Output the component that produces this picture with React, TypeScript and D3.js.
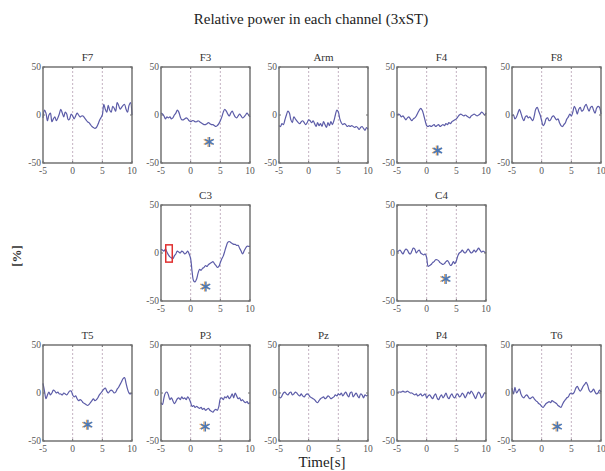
import React, { useEffect, useRef } from "react";
import * as d3 from "d3";

// channel names, in plotting order
const channels = ["F7", "F3", "Arm", "F4", "F8", "C3", "C4", "T5", "P3", "Pz", "P4", "T6"];

// grid cell (row, col) for each channel
const cells: [number, number][] = [
  [0, 0], [0, 1], [0, 2], [0, 3], [0, 4],
  [1, 1], [1, 3],
  [2, 0], [2, 1], [2, 2], [2, 3], [2, 4],
];

const xTicks = [-5, 0, 5, 10];
const yTicks = [-50, 0, 50];
const markers = [0, 5];

// relative power (%), sampled every 0.25 s from -5 to 10 s
const F7 = [-3, 5, 2, -6, 0, 2, -7, -4, -2, -6, -3, 1, 6, 2, -2, 3, 1, -5, -4, 1, -1, -4, -1, 2, 0, -2, -1, -1, -3, -5, -7, -8, -10, -12, -13, -14, -13, -10, -6, -3, 0, 11, 6, 3, 10, 5, 3, 9, 7, 4, 13, 10, 6, 8, 10, 11, 6, 3, 10, 13, 0];
const F3 = [2, 1, -1, -4, -2, -3, -2, -4, -3, 0, 2, 5, 3, -2, -5, -5, -4, -3, -4, -6, -7, -6, -6, -7, -7, -6, -7, -8, -9, -10, -10, -9, -8, -9, -10, -10, -11, -12, -11, -9, -6, -2, 3, 6, 4, 1, -1, 2, 4, 1, -2, -3, -1, 1, -1, -3, -2, 0, 2, 0, -2];
const Arm = [-11, -12, -9, -10, -5, 0, 4, 2, -5, -8, -2, -4, -6, -8, -9, -7, -6, -8, -10, -8, -5, -6, -8, -6, -9, -12, -8, -11, -9, -12, -7, -10, -13, -8, -11, -7, -10, -6, 0, 5, 3, -4, -8, -10, -9, -10, -12, -11, -12, -11, -12, -13, -12, -13, -15, -13, -12, -14, -16, -13, -15];
const F4 = [0, 1, 0, -2, -1, -3, -5, -3, -2, -4, -6, -4, -3, -1, 2, 5, 7, 5, 0, -6, -11, -12, -11, -12, -11, -10, -12, -11, -10, -12, -11, -10, -11, -9, -10, -8, -9, -7, -6, -5, -4, -2, 0, 1, 0, -1, 0, -1, -2, -3, -1, 0, 1, 0, -1, 0, 1, 3, 2, 0, 2];
const F8 = [-1, 0, -4, -2, 2, 6, 2, -3, -6, -2, -1, -3, -2, -4, -6, -1, 6, 8, 4, 0, -6, -11, -9, -4, -3, -6, -5, -2, -1, -3, -5, -4, -8, -11, -12, -10, -8, -4, -2, 1, -1, 3, 9, 6, 1, 6, 8, 4, 5, 9, 11, 7, 4, 8, 9, 5, 2, 7, 9, 8, 1];
const C3 = [4, 3, 2, 4, 1, -2, -4, -5, -6, -3, -1, 2, 1, 0, 2, 1, -1, 0, 2, -1, -6, -20, -29, -30, -27, -21, -17, -18, -16, -15, -13, -14, -12, -11, -10, -9, -11, -13, -15, -14, -10, -6, -3, 2, 7, 11, 12, 11, 10, 9, 9, 8, 8, 5, 2, -1, 2, 5, 7, 7, 7];
const C4 = [1, 2, 3, 1, -1, 2, 4, 3, 0, -1, 2, 5, 4, 0, 2, 3, 0, -1, -2, -1, -5, -14, -13, -12, -10, -9, -7, -7, -8, -10, -11, -12, -11, -9, -8, -10, -13, -12, -9, -11, -8, -3, 0, 1, 3, 1, 0, 2, 4, 2, 0, 1, 3, 1, 3, 5, 3, 1, 2, 1, 0];
const T5 = [10, 2, -6, -2, 1, -2, 0, 3, 2, 0, 1, -1, -1, -2, 0, -1, -2, 0, 2, 2, -2, -4, -3, -6, -8, -7, -8, -10, -11, -12, -13, -12, -10, -8, -6, -8, -7, -5, -2, 0, 2, 4, 5, 2, 0, 2, 3, 2, 0, 1, 4, 6, 9, 12, 15, 16, 10, 4, 0, -1, 0];
const P3 = [-10, -12, -5, 0, 1, -2, -7, -5, -8, -11, -9, -6, -5, -7, -4, -6, -5, -7, -4, -6, -10, -14, -13, -15, -14, -15, -16, -15, -17, -16, -18, -17, -16, -18, -19, -20, -18, -17, -18, -14, -6, -5, -7, -4, -5, -3, -6, -4, -1, -5, 0, -3, -6, -5, -8, -7, -9, -10, -9, -11, -10];
const Pz = [-4, -5, -3, 0, 1, -1, -2, 0, 1, -2, -1, 1, 0, -2, -3, -1, -3, -4, -2, -1, -2, -4, -5, -6, -7, -9, -10, -8, -6, -5, -4, -6, -5, -3, -4, -6, -5, -4, -2, -3, -1, -2, 0, -3, -1, 1, -2, -4, 0, 1, -4, -2, 0, -3, -5, -1, -2, -5, -2, -3, -2];
const P4 = [0, 1, 1, 1, 2, 1, 1, 2, 1, 0, 0, -1, -2, -1, -3, -2, -1, -3, -2, -1, -5, -3, -2, -4, -6, -3, -1, -5, -7, -4, -2, -5, -3, 0, -4, -6, -3, -1, -4, -5, -2, -1, -4, -3, 0, -2, -5, -2, 1, -1, 2, 0, -3, -6, -2, 1, -1, -5, -3, 0, -1];
const T6 = [5, -1, 6, 0, 2, 4, -1, -4, -5, -3, -2, -4, -6, -5, -4, -6, -8, -9, -11, -12, -14, -15, -13, -11, -10, -9, -10, -8, -9, -10, -11, -13, -14, -15, -12, -9, -7, -5, -4, -1, 0, -1, 1, 5, 7, 4, 2, 4, 7, 9, 11, 8, 3, 1, 2, 4, 1, -1, 0, 3, 1];

const series = [F7, F3, Arm, F4, F8, C3, C4, T5, P3, Pz, P4, T6];

// significance markers (*): channel, time, value
const starChannels = ["F3", "F4", "C3", "C4", "T5", "P3", "T6"];
const starTimes = [3.1, 1.8, 2.5, 3.2, 2.5, 2.4, 2.6];
const starValues = [-28, -37, -35, -27, -33, -35, -35];

// highlighted baseline window in C3: [t0, t1, v0, v1]
const boxChannel = "C3";
const boxExtent = [-4.2, -3.1, 8.5, -9.5];

const W = 605;
const H = 471;
const colLeft = [43, 161, 279, 397, 512];
const rowTop = [67, 205, 345];
const PW = 89;
const PH = 96;

const serif = "'Liberation Serif', 'Times New Roman', serif";

function App() {
  const svgRef = useRef<SVGSVGElement>(null);

  useEffect(() => {
    if (!svgRef.current) return;
    const svg = d3.select(svgRef.current);
    svg.selectAll("*").remove();

    svg.append("rect").attr("width", W).attr("height", H).attr("fill", "white");

    // figure title
    svg
      .append("text")
      .attr("x", 311)
      .attr("y", 24)
      .attr("text-anchor", "middle")
      .style("font-family", serif)
      .style("font-size", "15px")
      .attr("fill", "#222")
      .text("Relative power in each channel (3xST)");

    channels.forEach((name, k) => {
      const [row, col] = cells[k];
      const x0 = colLeft[col];
      const y0 = rowTop[row];
      const x = d3.scaleLinear().domain([-5, 10]).range([x0, x0 + PW]);
      const y = d3.scaleLinear().domain([-50, 50]).range([y0 + PH, y0]);
      const g = svg.append("g");

      // dotted event markers
      markers.forEach((m) => {
        g.append("line")
          .attr("x1", x(m))
          .attr("x2", x(m))
          .attr("y1", y0)
          .attr("y2", y0 + PH)
          .attr("stroke", "#c4b2c2")
          .attr("stroke-width", 1)
          .attr("stroke-dasharray", "2,2");
      });

      // trace
      const vals = series[k];
      const n = vals.length;
      const line = d3
        .line<number>()
        .x((_, i) => x(-5 + (i * 15) / (n - 1)))
        .y((d) => y(d))
        .curve(d3.curveCatmullRom);
      g.append("path")
        .attr("d", line(vals))
        .attr("fill", "none")
        .attr("stroke", "#5c5ca8")
        .attr("stroke-width", 1.2);

      // frame
      g.append("rect")
        .attr("x", x0)
        .attr("y", y0)
        .attr("width", PW)
        .attr("height", PH)
        .attr("fill", "none")
        .attr("stroke", "#6a6a6a")
        .attr("stroke-width", 1.4);

      // inward ticks
      xTicks.forEach((t) => {
        g.append("line").attr("x1", x(t)).attr("x2", x(t)).attr("y1", y0 + PH).attr("y2", y0 + PH - 2).attr("stroke", "#707070");
        g.append("line").attr("x1", x(t)).attr("x2", x(t)).attr("y1", y0).attr("y2", y0 + 2).attr("stroke", "#707070");
      });
      yTicks.forEach((t) => {
        g.append("line").attr("x1", x0).attr("x2", x0 + 2).attr("y1", y(t)).attr("y2", y(t)).attr("stroke", "#707070");
        g.append("line").attr("x1", x0 + PW).attr("x2", x0 + PW - 2).attr("y1", y(t)).attr("y2", y(t)).attr("stroke", "#707070");
      });

      // tick labels
      xTicks.forEach((t) => {
        g.append("text")
          .attr("x", x(t))
          .attr("y", y0 + PH + 11)
          .attr("text-anchor", "middle")
          .style("font-family", serif)
          .style("font-size", "9.5px")
          .attr("fill", "#555")
          .text(t);
      });
      yTicks.forEach((t) => {
        g.append("text")
          .attr("x", x0 - 2)
          .attr("y", y(t) + 3)
          .attr("text-anchor", "end")
          .style("font-family", serif)
          .style("font-size", "9.5px")
          .attr("fill", "#555")
          .text(t);
      });

      // panel title
      g.append("text")
        .attr("x", x0 + PW / 2)
        .attr("y", y0 - 6)
        .attr("text-anchor", "middle")
        .style("font-family", serif)
        .style("font-size", "11px")
        .attr("fill", "#333")
        .text(name);

      // red baseline box
      if (name === boxChannel) {
        g.append("rect")
          .attr("x", x(boxExtent[0]))
          .attr("y", y(boxExtent[2]))
          .attr("width", x(boxExtent[1]) - x(boxExtent[0]))
          .attr("height", y(boxExtent[3]) - y(boxExtent[2]))
          .attr("fill", "none")
          .attr("stroke", "#e03030")
          .attr("stroke-width", 1.5);
      }

      // significance asterisk (blue with a slight orange fringe)
      const si = starChannels.indexOf(name);
      if (si >= 0) {
        const sym = d3.symbol().type(d3.symbolAsterisk).size(70);
        const cx = x(starTimes[si]);
        const cy = y(starValues[si]);
        g.append("path")
          .attr("d", sym())
          .attr("transform", `translate(${cx - 1},${cy})`)
          .attr("fill", "none")
          .attr("stroke", "#e8a860")
          .attr("stroke-width", 1.2);
        g.append("path")
          .attr("d", sym())
          .attr("transform", `translate(${cx + 0.4},${cy})`)
          .attr("fill", "none")
          .attr("stroke", "#4a78b8")
          .attr("stroke-width", 1.5);
      }
    });

    // axis labels
    svg
      .append("text")
      .attr("transform", `translate(21,256) rotate(-90)`)
      .attr("text-anchor", "middle")
      .style("font-family", serif)
      .style("font-size", "13px")
      .style("font-weight", "bold")
      .attr("fill", "#333")
      .text("[%]");

    svg
      .append("text")
      .attr("x", 322)
      .attr("y", 467)
      .attr("text-anchor", "middle")
      .style("font-family", serif)
      .style("font-size", "15px")
      .attr("fill", "#222")
      .text("Time[s]");
  }, []);

  return (
    <svg
      ref={svgRef}
      width={W}
      height={H}
      style={{ position: "absolute", left: 0, top: 0 }}
    ></svg>
  );
}

export default App;
